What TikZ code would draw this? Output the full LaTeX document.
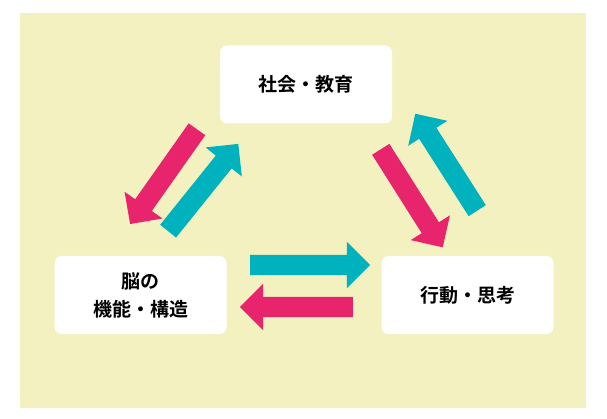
\documentclass[tikz,border=0pt]{standalone}
\usepackage{fontspec}
\newfontfamily\cjk{Noto Sans CJK JP Bold}
\usetikzlibrary{shapes.arrows}
\definecolor{bg}{HTML}{F3F1BF}
\definecolor{pk}{HTML}{E8246C}
\definecolor{cy}{HTML}{00B2BE}
\tikzset{
 box/.style={fill=white,rounded corners=7pt,minimum width=172pt,minimum height=78pt,font=\cjk\fontsize{19}{28}\selectfont,align=center},
 arr/.style={single arrow,draw=none,inner xsep=0pt,inner ysep=10pt,minimum width=0pt,single arrow head extend=13pt,single arrow tip angle=90}
}
\begin{document}
\begin{tikzpicture}[x=1pt,y=-1pt]
\useasboundingbox (0,0) rectangle (607,419);
\fill[white] (0,0) rectangle (607,419);
\fill[bg] (20,13) rectangle (586,408);
\node[box] (soc) at (306,84.5) {社会・教育};
\node[box] (brain) at (140.5,295) {脳の\\機能・構造};
\node[box] (act) at (467.5,295) {行動・思考};
\node[arr,fill=pk,minimum height=116pt,rotate=234.8] (a1) at (166.5,172.5) {};
\node[arr,fill=cy,minimum height=112pt,rotate=51.2] (a2) at (200,191.5) {};
\node[arr,fill=pk,minimum height=116pt,rotate=-57.7] (a3) at (409,194) {};
\node[arr,fill=cy,minimum height=115pt,rotate=122.6] (a4) at (449,166.5) {};
\node[arr,fill=cy,minimum height=120pt] (a5) at (305,265) {};
\node[arr,fill=pk,minimum height=113pt,rotate=180] (a6) at (301.5,307) {};
\end{tikzpicture}
\end{document}
